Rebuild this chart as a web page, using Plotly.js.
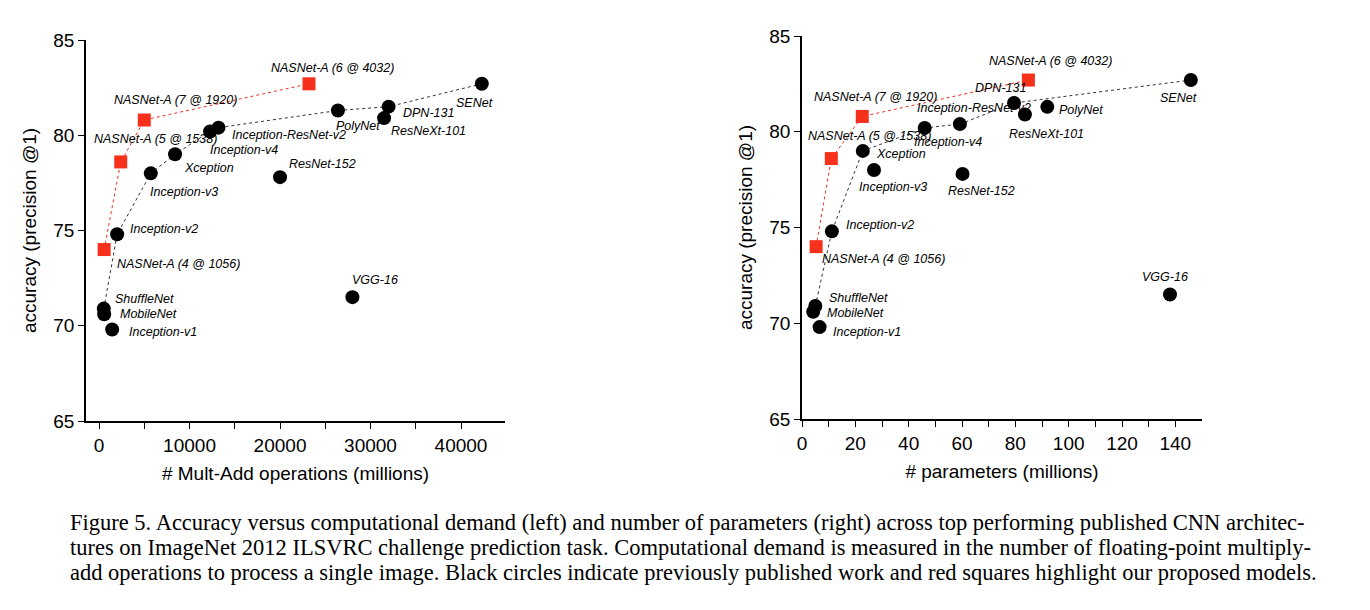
<!DOCTYPE html>
<html>
<head>
<meta charset="utf-8">
<script src="https://cdn.plot.ly/plotly-3.0.1.min.js"></script>
<style>body{margin:0;background:#fff}</style>
</head>
<body>
<div id="myDiv" style="width:1370px;height:610px"></div>
<script>
// modelos publicados (círculos negros)
const names = ['ShuffleNet','MobileNet','Inception-v1','Inception-v2','Inception-v3','Xception',
  'Inception-v4','Inception-ResNet-v2','PolyNet','DPN-131','ResNeXt-101','SENet','ResNet-152','VGG-16'];
const acc = [70.9, 70.6, 69.8, 74.8, 78.0, 79.0, 80.2, 80.4, 81.3, 81.5, 80.9, 82.7, 77.8, 71.5];
const multAdds = [524, 569, 1448, 2000, 5720, 8400, 12270, 13200, 26400, 32000, 31500, 42300, 20000, 28000];
const params = [5.0, 4.2, 6.6, 11.2, 27.0, 22.8, 46.0, 59.2, 92.0, 79.5, 83.6, 145.8, 60.2, 138.0];

// modelos propuestos (cuadrados rojos)
const nasNames = ['NASNet-A (4 @ 1056)','NASNet-A (5 @ 1538)','NASNet-A (7 @ 1920)','NASNet-A (6 @ 4032)'];
const nasAcc = [74.0, 78.6, 80.8, 82.7];
const nasMultAdds = [564, 2400, 5000, 23200];
const nasParams = [5.3, 11.0, 22.6, 84.9];

// frontera punteada negra (índices en names)
const frontLeft = [0, 3, 4, 5, 6, 7, 8, 9, 11];
const frontRight = [0, 3, 5, 6, 7, 9, 11];

// desplazamientos de etiquetas en px [dx, dy] (dy hacia abajo)
const offLeft = [[9,-10],[14,0],[15,2],[11,-5],[-3,19],[7,14],[-2,19],[12,7],[-4,16],[12,6],[5,13],[-28,19],[7,-13],[-2,-17]];
const offRight = [[12,-8],[12,1],[11,5],[12,-6],[-17,17],[11,3],[-13,14],[-45,-16],[10,3],[-41,-15],[-18,19],[-33,18],[-17,17],[-30,-18]];
const nasOffLeft = [[11,14],[-29,-23],[-32,-20],[-40,-16]];
const nasOffRight = [[4,12],[-25,-23],[-50,-19],[-41,-19]];

const FONT = 'Liberation Sans, Arial, sans-serif';
const traces = [];
const annotations = [];

function addPanel(xs, nasXs, front, off, nasOff, xa, ya) {
  traces.push({x: front.map(i => xs[i]), y: front.map(i => acc[i]), xaxis: xa, yaxis: ya,
    mode: 'lines', line: {color: '#333', width: 1, dash: 'dot'}, hoverinfo: 'skip'});
  traces.push({x: nasXs, y: nasAcc, xaxis: xa, yaxis: ya,
    mode: 'lines', line: {color: '#f03020', width: 1, dash: 'dot'}, hoverinfo: 'skip'});
  traces.push({x: xs, y: acc, xaxis: xa, yaxis: ya, mode: 'markers', text: names,
    marker: {color: '#000', size: 14, symbol: 'circle'}});
  traces.push({x: nasXs, y: nasAcc, xaxis: xa, yaxis: ya, mode: 'markers', text: nasNames,
    marker: {color: '#f7301c', size: 13, symbol: 'square'}});
  const lab = (n, x, y, o) => annotations.push({text: '<i>' + n + '</i>', x: x, y: y,
    xref: xa, yref: ya, showarrow: false, xanchor: 'left', yanchor: 'middle',
    xshift: o[0], yshift: -o[1], font: {family: FONT, size: 12.5, color: '#000'}});
  names.forEach((n, i) => lab(n, xs[i], acc[i], off[i]));
  nasNames.forEach((n, i) => lab(n, nasXs[i], nasAcc[i], nasOff[i]));
}

addPanel(multAdds, nasMultAdds, frontLeft, offLeft, nasOffLeft, 'x', 'y');
addPanel(params, nasParams, frontRight, offRight, nasOffRight, 'x2', 'y2');

const caption = [
  'Figure 5. Accuracy versus computational demand (left) and number of parameters (right) across top performing published CNN architec-',
  'tures on ImageNet 2012 ILSVRC challenge prediction task. Computational demand is measured in the number of floating-point multiply-',
  'add operations to process a single image. Black circles indicate previously published work and red squares highlight our proposed models.'
];
caption.forEach((t, i) => annotations.push({text: t, xref: 'paper', yref: 'paper', x: 68/1370,
  y: 1 - (522 + i*25)/610, xanchor: 'left', yanchor: 'middle', showarrow: false,
  font: {family: 'Liberation Serif, Times New Roman, serif', size: 22.5, color: '#000'}}));

const axisBase = {showgrid: false, zeroline: false, showline: true, linecolor: '#000', linewidth: 1.5,
  ticks: 'outside', ticklen: 6, tickcolor: '#000', tickfont: {family: FONT, size: 19, color: '#000'}};
const yAxis = Object.assign({}, axisBase, {range: [65, 85], tickvals: [65,70,75,80,85],
  title: {text: 'accuracy (precision @1)', font: {family: FONT, size: 19, color: '#000'}, standoff: 12}});

const layout = {
  width: 1370, height: 610, showlegend: false, hovermode: 'closest',
  margin: {l: 0, r: 0, t: 0, b: 0}, paper_bgcolor: '#fff', plot_bgcolor: '#fff',
  xaxis: Object.assign({}, axisBase, {domain: [86/1370, 505/1370], range: [-1440, 44860],
    tickvals: [0,5000,10000,15000,20000,25000,30000,35000,40000],
    ticktext: ['0','','10000','','20000','','30000','','40000'],
    title: {text: '# Mult-Add operations (millions)', font: {family: FONT, size: 19, color: '#000'}, standoff: 12}}),
  yaxis: Object.assign({}, yAxis, {domain: [1 - 421/610, 1 - 40/610], anchor: 'x'}),
  xaxis2: Object.assign({}, axisBase, {domain: [802/1370, 1202/1370], range: [0, 150], anchor: 'y2',
    tickvals: [0,10,20,30,40,50,60,70,80,90,100,110,120,130,140],
    ticktext: ['0','','20','','40','','60','','80','','100','','120','','140'],
    title: {text: '# parameters (millions)', font: {family: FONT, size: 19, color: '#000'}, standoff: 12}}),
  yaxis2: Object.assign({}, yAxis, {domain: [1 - 419/610, 1 - 36/610], anchor: 'x2'}),
  annotations: annotations
};

Plotly.newPlot('myDiv', traces, layout, {displayModeBar: false});
</script>
</body>
</html>
